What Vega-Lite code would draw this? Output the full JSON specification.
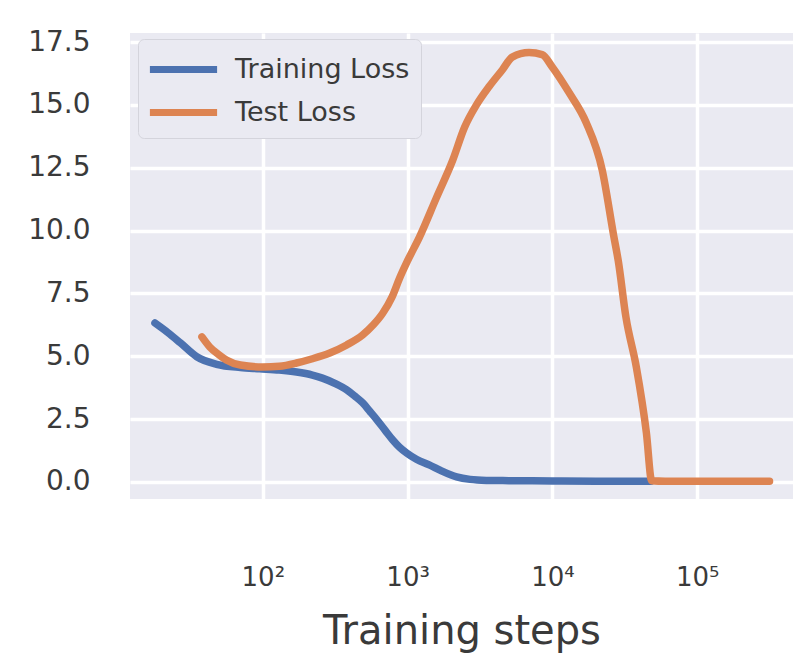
{
  "$schema": "https://vega.github.io/schema/vega-lite/v6.json",
  "width": 663,
  "height": 466,
  "autosize": {"type": "none"},
  "padding": {"left": 130, "top": 33, "right": 7, "bottom": 166},
  "background": "#ffffff",
  "data": {
    "values": [
      {"step": 18, "loss": 6.32, "series": "Training Loss"},
      {"step": 22, "loss": 5.95, "series": "Training Loss"},
      {"step": 27, "loss": 5.53, "series": "Training Loss"},
      {"step": 35, "loss": 4.98, "series": "Training Loss"},
      {"step": 48, "loss": 4.68, "series": "Training Loss"},
      {"step": 70, "loss": 4.55, "series": "Training Loss"},
      {"step": 95, "loss": 4.5, "series": "Training Loss"},
      {"step": 130, "loss": 4.45, "series": "Training Loss"},
      {"step": 171, "loss": 4.37, "series": "Training Loss"},
      {"step": 220, "loss": 4.25, "series": "Training Loss"},
      {"step": 258, "loss": 4.13, "series": "Training Loss"},
      {"step": 320, "loss": 3.9, "series": "Training Loss"},
      {"step": 380, "loss": 3.66, "series": "Training Loss"},
      {"step": 430, "loss": 3.42, "series": "Training Loss"},
      {"step": 490, "loss": 3.14, "series": "Training Loss"},
      {"step": 550, "loss": 2.8, "series": "Training Loss"},
      {"step": 614, "loss": 2.47, "series": "Training Loss"},
      {"step": 700, "loss": 2.05, "series": "Training Loss"},
      {"step": 790, "loss": 1.67, "series": "Training Loss"},
      {"step": 880, "loss": 1.38, "series": "Training Loss"},
      {"step": 985, "loss": 1.15, "series": "Training Loss"},
      {"step": 1150, "loss": 0.9, "series": "Training Loss"},
      {"step": 1410, "loss": 0.68, "series": "Training Loss"},
      {"step": 1700, "loss": 0.45, "series": "Training Loss"},
      {"step": 2180, "loss": 0.2, "series": "Training Loss"},
      {"step": 2700, "loss": 0.1, "series": "Training Loss"},
      {"step": 3500, "loss": 0.06, "series": "Training Loss"},
      {"step": 5000, "loss": 0.05, "series": "Training Loss"},
      {"step": 10000, "loss": 0.04, "series": "Training Loss"},
      {"step": 20000, "loss": 0.03, "series": "Training Loss"},
      {"step": 48000, "loss": 0.03, "series": "Training Loss"},
      {"step": 38, "loss": 5.77, "series": "Test Loss"},
      {"step": 43, "loss": 5.37, "series": "Test Loss"},
      {"step": 50, "loss": 5.05, "series": "Test Loss"},
      {"step": 56, "loss": 4.85, "series": "Test Loss"},
      {"step": 70, "loss": 4.65, "series": "Test Loss"},
      {"step": 100, "loss": 4.57, "series": "Test Loss"},
      {"step": 130, "loss": 4.6, "series": "Test Loss"},
      {"step": 171, "loss": 4.73, "series": "Test Loss"},
      {"step": 220, "loss": 4.9, "series": "Test Loss"},
      {"step": 290, "loss": 5.13, "series": "Test Loss"},
      {"step": 380, "loss": 5.45, "series": "Test Loss"},
      {"step": 490, "loss": 5.85, "series": "Test Loss"},
      {"step": 580, "loss": 6.25, "series": "Test Loss"},
      {"step": 675, "loss": 6.72, "series": "Test Loss"},
      {"step": 780, "loss": 7.35, "series": "Test Loss"},
      {"step": 880, "loss": 8.1, "series": "Test Loss"},
      {"step": 1000, "loss": 8.8, "series": "Test Loss"},
      {"step": 1210, "loss": 9.75, "series": "Test Loss"},
      {"step": 1580, "loss": 11.3, "series": "Test Loss"},
      {"step": 2050, "loss": 12.8, "series": "Test Loss"},
      {"step": 2470, "loss": 14.1, "series": "Test Loss"},
      {"step": 2990, "loss": 15.0, "series": "Test Loss"},
      {"step": 3680, "loss": 15.75, "series": "Test Loss"},
      {"step": 4520, "loss": 16.4, "series": "Test Loss"},
      {"step": 5280, "loss": 16.9, "series": "Test Loss"},
      {"step": 6900, "loss": 17.08, "series": "Test Loss"},
      {"step": 8500, "loss": 17.0, "series": "Test Loss"},
      {"step": 10000, "loss": 16.5, "series": "Test Loss"},
      {"step": 13100, "loss": 15.47, "series": "Test Loss"},
      {"step": 17100, "loss": 14.3, "series": "Test Loss"},
      {"step": 22100, "loss": 12.4, "series": "Test Loss"},
      {"step": 26500, "loss": 9.8, "series": "Test Loss"},
      {"step": 28500, "loss": 8.8, "series": "Test Loss"},
      {"step": 32200, "loss": 6.56, "series": "Test Loss"},
      {"step": 38000, "loss": 4.57, "series": "Test Loss"},
      {"step": 44600, "loss": 1.95, "series": "Test Loss"},
      {"step": 48500, "loss": 0.05, "series": "Test Loss"},
      {"step": 60000, "loss": 0.03, "series": "Test Loss"},
      {"step": 100000, "loss": 0.03, "series": "Test Loss"},
      {"step": 200000, "loss": 0.03, "series": "Test Loss"},
      {"step": 316000, "loss": 0.03, "series": "Test Loss"}
    ]
  },
  "encoding": {
    "x": {
      "field": "step",
      "type": "quantitative",
      "scale": {"type": "log", "domain": [12.1, 459000], "nice": false},
      "axis": {
        "title": "Training steps",
        "titleFontSize": 40,
        "titleY": 144,
        "titleBaseline": "alphabetic",
        "values": [100, 1000, 10000, 100000],
        "labelExpr": "'10' + ['⁰','¹','²','³','⁴','⁵','⁶'][round(log(datum.value) / LN10)]",
        "labelFontSize": 26,
        "labelBaseline": "alphabetic",
        "labelPadding": 86,
        "labelFlush": false,
        "labelOverlap": false
      }
    },
    "y": {
      "field": "loss",
      "type": "quantitative",
      "scale": {"domain": [-0.68, 17.86], "nice": false, "zero": false},
      "axis": {
        "title": null,
        "values": [0, 2.5, 5, 7.5, 10, 12.5, 15, 17.5],
        "format": ".1f",
        "labelFontSize": 28,
        "labelPadding": 40
      }
    },
    "color": {
      "field": "series",
      "type": "nominal",
      "scale": {"domain": ["Training Loss", "Test Loss"], "range": ["#4c72b0", "#dd8452"]},
      "legend": {
        "title": null,
        "orient": "none",
        "legendX": 8,
        "legendY": 6,
        "symbolType": "M-2.1,0H2.1",
        "symbolSize": 1024,
        "symbolStrokeWidth": 7,
        "symbolOffset": 15,
        "labelFontSize": 27,
        "labelColor": "#3a3a3a",
        "labelLimit": 0,
        "labelOffset": 32,
        "fillColor": "#eaeaf2",
        "strokeColor": "#d4d4dc",
        "cornerRadius": 6,
        "padding": 11,
        "rowPadding": 9
      }
    }
  },
  "layer": [
    {
      "transform": [{"filter": "datum.series === 'Training Loss'"}],
      "mark": {"type": "line", "strokeWidth": 7.5, "strokeCap": "round", "strokeJoin": "round", "interpolate": "monotone"}
    },
    {
      "transform": [{"filter": "datum.series === 'Test Loss'"}],
      "mark": {"type": "line", "strokeWidth": 7.5, "strokeCap": "round", "strokeJoin": "round", "interpolate": "monotone"}
    }
  ],
  "config": {
    "font": "DejaVu Sans",
    "view": {"fill": "#eaeaf2", "stroke": null},
    "axis": {
      "domain": false,
      "ticks": false,
      "tickSize": 0,
      "gridColor": "#ffffff",
      "gridWidth": 3.5,
      "gridOpacity": 1,
      "labelColor": "#3a3a3a",
      "titleColor": "#3a3a3a",
      "titleFontWeight": "normal"
    }
  }
}
